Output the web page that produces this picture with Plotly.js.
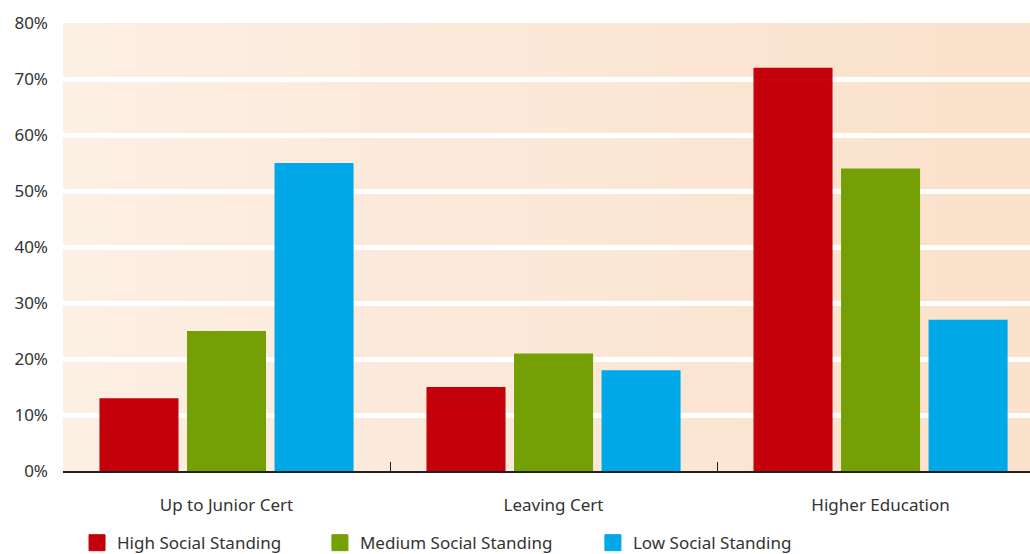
<!DOCTYPE html>
<html>
<head>
<meta charset="utf-8">
<script src="https://cdn.plot.ly/plotly-3.0.1.min.js"></script>
<style>html,body{margin:0;padding:0;background:#fff;}#chart{width:1030px;height:554px;}</style>
</head>
<body>
<div id="chart"></div>
<script>
const categories = ["Up to Junior Cert", "Leaving Cert", "Higher Education"];
const seriesNames = ["High Social Standing", "Medium Social Standing", "Low Social Standing"];
const highValues = [13, 15, 72];
const mediumValues = [25, 21, 54];
const lowValues = [55, 18, 27];
const yTickVals = [0, 10, 20, 30, 40, 50, 60, 70, 80];
const yTickText = ["0%", "10%", "20%", "30%", "40%", "50%", "60%", "70%", "80%"];
const colors = ["#c4000b", "#74a005", "#00a8e8"];

const seriesValues = [highValues, mediumValues, lowValues];
const legendIds = ["legend", "legend2", "legend3"];
const traces = seriesValues.map((vals, i) => ({
  type: "bar",
  name: seriesNames[i],
  x: categories,
  y: vals,
  marker: {color: colors[i], line: {width: 0}},
  showlegend: false,
  hoverinfo: "skip"
}));

// legend entries (square markers, no data drawn)
seriesNames.forEach((nm, i) => {
  traces.push({
    type: "scatter", mode: "markers", name: nm,
    x: [categories[0]], y: [null],
    marker: {symbol: "square", size: 16, color: colors[i], line: {width: 1, color: colors[i]}},
    legend: legendIds[i], showlegend: true, hoverinfo: "skip"
  });
});

// dummy trace on numeric overlay axis for boundary ticks
traces.push({
  type: "scatter", x: [0.5, 1.5], y: [null, null], xaxis: "x2", mode: "none",
  showlegend: false, hoverinfo: "skip"
});

const gradSvg = '<svg xmlns="http://www.w3.org/2000/svg" width="100" height="100" preserveAspectRatio="none"><defs><linearGradient id="g" x1="0" y1="0" x2="1" y2="0"><stop offset="0" stop-color="#fcefe4"/><stop offset="1" stop-color="#fae1cb"/></linearGradient></defs><rect width="100" height="100" fill="url(#g)"/></svg>';
const gradUri = "data:image/svg+xml;base64," + btoa(gradSvg);

const font = {family: "Noto Sans, Open Sans, sans-serif", size: 17, color: "#333333"};
const xRange = [-0.5, 2.457];

function legendAt(x) {
  return {
    orientation: "h", x: x, xanchor: "left", y: -0.161, yanchor: "middle",
    font: {family: font.family, size: 17, color: "#333333"},
    bgcolor: "rgba(0,0,0,0)", itemwidth: 30, itemsizing: "trace"
  };
}

const layout = {
  width: 1030, height: 554,
  margin: {l: 63, r: 0, t: 23, b: 83, autoexpand: false},
  paper_bgcolor: "#ffffff",
  plot_bgcolor: "rgba(0,0,0,0)",
  font: font,
  barmode: "group",
  bargap: 0.197,
  bargroupgap: 0.097,
  showlegend: true,
  legend: legendAt(0.0145),
  legend2: legendAt(0.2657),
  legend3: legendAt(0.548),
  images: [{
    source: gradUri, xref: "paper", yref: "paper", x: 0, y: 1, sizex: 1, sizey: 1,
    xanchor: "left", yanchor: "top", sizing: "stretch", layer: "below"
  }],
  xaxis: {
    type: "category", range: xRange,
    showgrid: false, zeroline: false,
    showline: true, linecolor: "#222222", linewidth: 2,
    ticks: "", ticklabelstandoff: 18,
    tickfont: font, fixedrange: true, automargin: false
  },
  xaxis2: {
    overlaying: "x", range: xRange, tickvals: [0.5, 1.5],
    ticks: "inside", ticklen: 9, tickcolor: "#222222", tickwidth: 1,
    showticklabels: false, showgrid: false, zeroline: false, showline: false,
    anchor: "y", side: "bottom", automargin: false
  },
  yaxis: {
    range: [0, 80], tickvals: yTickVals, ticktext: yTickText, tickmode: "array",
    showgrid: true, gridcolor: "#ffffff", gridwidth: 5,
    zeroline: false, showline: false, ticks: "",
    ticklabelstandoff: 14, tickfont: font, fixedrange: true, automargin: false
  }
};

Plotly.newPlot("chart", traces, layout, {displayModeBar: false, staticPlot: true});
</script>
</body>
</html>
